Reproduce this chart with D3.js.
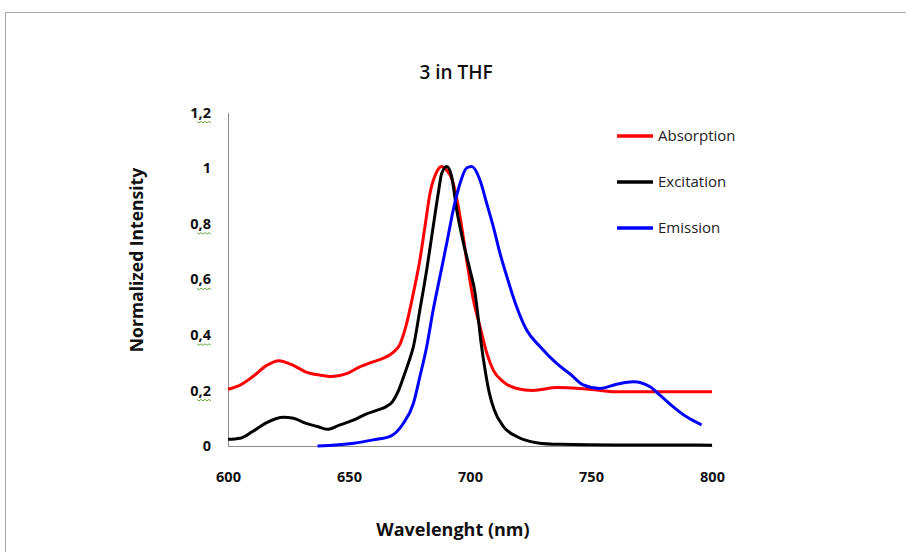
<!DOCTYPE html>
<html>
<head>
<meta charset="UTF-8">
<title>3 in THF</title>
<script src="https://d3js.org/d3.v7.min.js"></script>
<style>
  body { margin: 0; background: #fff; }
  text { font-family: "Open Sans", "Noto Sans", sans-serif; }
</style>
</head>
<body>
<svg width="906" height="552"></svg>
<script>
// series: [wavelength nm, normalized intensity]
var absorption = [[600,0.204],[605,0.219],[610,0.248],[616,0.29],[621,0.307],[627,0.29],[632,0.267],[638,0.255],[643,0.25],[649,0.26],[654,0.283],[659,0.300],[664,0.315],[668,0.335],[671,0.365],[673.5,0.43],[676.6,0.55],[679.3,0.67],[681.4,0.79],[683.5,0.91],[686.2,0.985],[688.3,1.005],[690,0.995],[692.5,0.96],[695.9,0.825],[698.6,0.67],[701.4,0.525],[704.1,0.43],[706.9,0.335],[709.6,0.273],[713.8,0.231],[719.3,0.207],[726,0.200],[736,0.21],[745,0.207],[754,0.200],[759,0.195],[800,0.195]];
var excitation = [[600,0.024],[605,0.028],[610,0.051],[616,0.084],[623,0.103],[627,0.1],[632,0.082],[637,0.07],[641,0.06],[646,0.075],[652,0.094],[657,0.115],[662,0.13],[665,0.14],[668,0.16],[670.5,0.2],[673,0.26],[675,0.31],[676.6,0.357],[679.3,0.49],[682.1,0.633],[684.8,0.79],[686.9,0.91],[688.3,0.98],[690.4,1.005],[692.4,0.97],[694.5,0.85],[697.3,0.73],[700,0.633],[702.1,0.55],[703.4,0.46],[704.6,0.37],[706.3,0.27],[708,0.19],[710,0.13],[713.8,0.07],[719.3,0.034],[727.5,0.012],[737,0.006],[760,0.004],[780,0.004],[800,0.003]];
var emission = [[637,0],[652,0.01],[660,0.022],[667,0.035],[672.5,0.082],[676.6,0.153],[679.3,0.25],[682.1,0.357],[684.8,0.49],[687.6,0.61],[690.4,0.73],[693.1,0.85],[695.9,0.945],[698.6,1.0],[700.7,1.005],[704.1,0.957],[706.9,0.873],[709.6,0.79],[712.4,0.693],[715.2,0.61],[719.3,0.50],[723.4,0.417],[729,0.357],[735.8,0.297],[741.5,0.258],[746.8,0.22],[753.7,0.207],[760.6,0.222],[767.5,0.231],[774.4,0.213],[778.5,0.183],[784,0.141],[789.5,0.105],[795.7,0.076]];

var seriesNames = ["Absorption", "Excitation", "Emission"];
var seriesColors = ["#ff0000", "#000000", "#0000ff"];
var xTicks = [600, 650, 700, 750, 800];
var yTicks = [0, 0.2, 0.4, 0.6, 0.8, 1, 1.2];

var svg = d3.select("svg");

// chart area frame
svg.append("rect")
  .attr("x", 5.5).attr("y", 12.5)
  .attr("width", 1000).attr("height", 1000)
  .attr("fill", "none").attr("stroke", "#a6a6a6");

var x = d3.scaleLinear().domain([600, 800]).range([228, 712]);
var y = d3.scaleLinear().domain([0, 1.2]).range([446, 112.4]);

var fmt = function(d) { return String(d).replace(".", ","); };

var yAxis = svg.append("g")
  .attr("transform", "translate(228,0)")
  .call(d3.axisLeft(y).tickValues(yTicks).tickSize(0).tickPadding(17).tickFormat(fmt));
yAxis.select(".domain").attr("stroke", "#8c8c8c");
yAxis.selectAll("text")
  .attr("font-size", 14.5).attr("font-weight", "bold").attr("fill", "#111")
  .attr("font-family", '"Open Sans", sans-serif');

var xAxis = svg.append("g")
  .attr("transform", "translate(0,446)")
  .call(d3.axisBottom(x).tickValues(xTicks).tickSize(0).tickPadding(26).tickFormat(fmt));
xAxis.select(".domain").attr("stroke", "#8c8c8c");
xAxis.selectAll("text")
  .attr("font-size", 14.5).attr("font-weight", "bold").attr("fill", "#111")
  .attr("font-family", '"Open Sans", sans-serif');

// green spell-check squiggles under the decimal labels
yTicks.filter(function(d) { return d % 1 !== 0; }).forEach(function(d) {
  var y0 = y(d) + 9, x0 = 197, pts = [];
  for (var i = 0; i <= 14; i += 2) pts.push([x0 + i, y0 + (i % 4 === 0 ? 0 : 1.5)]);
  svg.append("path")
    .attr("d", d3.line()(pts))
    .attr("fill", "none").attr("stroke", "#5aa02c").attr("stroke-width", 0.9);
});

var line = d3.line()
  .x(function(d) { return x(d[0]); })
  .y(function(d) { return y(d[1]); })
  .curve(d3.curveMonotoneX);

[absorption, excitation, emission].forEach(function(s, i) {
  svg.append("path")
    .attr("d", line(s))
    .attr("fill", "none")
    .attr("stroke", seriesColors[i])
    .attr("stroke-width", 3)
    .attr("stroke-linejoin", "round");
});

// legend
var legend = svg.append("g");
seriesNames.forEach(function(n, i) {
  var ly = 136 + i * 46;
  legend.append("line")
    .attr("x1", 617).attr("x2", 653).attr("y1", ly).attr("y2", ly)
    .attr("stroke", seriesColors[i]).attr("stroke-width", 3.5);
  legend.append("text")
    .attr("x", 658).attr("y", ly + 5)
    .attr("font-size", 15).attr("fill", "#222")
    .text(n);
});

// titles
svg.append("text")
  .attr("x", 456).attr("y", 79)
  .attr("text-anchor", "middle")
  .attr("font-size", 19).attr("font-weight", 600).attr("fill", "#111")
  .text("3 in THF");

svg.append("text")
  .attr("x", 453).attr("y", 536)
  .attr("text-anchor", "middle")
  .attr("font-size", 18).attr("font-weight", "bold").attr("fill", "#111")
  .text("Wavelenght (nm)");

svg.append("text")
  .attr("transform", "translate(143,260) rotate(-90)")
  .attr("text-anchor", "middle")
  .attr("font-size", 17.5).attr("font-weight", "bold").attr("fill", "#111")
  .text("Normalized Intensity");
</script>
</body>
</html>
